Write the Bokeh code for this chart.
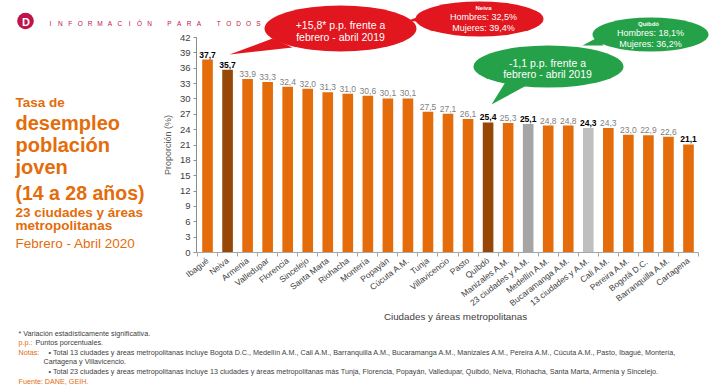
from bokeh.plotting import figure
from bokeh.models import Range1d, FixedTicker, Label, ColumnDataSource
from bokeh.embed import file_html
from bokeh.resources import INLINE
from bokeh.core.properties import value

# ---------------- data ----------------
cities = ["Ibagué", "Neiva", "Armenia", "Valledupar", "Florencia", "Sincelejo",
          "Santa Marta", "Riohacha", "Montería", "Popayán", "Cúcuta A.M.", "Tunja",
          "Villavicencio", "Pasto", "Quibdó", "Manizales A.M.", "23 ciudades y A.M.",
          "Medellín A.M.", "Bucaramanga A.M.", "13 ciudades y A.M.", "Cali A.M.",
          "Pereira A.M.", "Bogotá  D.C.", "Barranquilla A.M.", "Cartagena"]
rates = [37.7, 35.7, 33.9, 33.3, 32.4, 32.0, 31.3, 31.0, 30.6, 30.1, 30.1, 27.5,
         27.1, 26.1, 25.4, 25.3, 25.1, 24.8, 24.8, 24.3, 24.3, 23.0, 22.9, 22.6, 21.1]
y_ticks = list(range(0, 43, 3))
highlight_dark = ["Neiva", "Quibdó"]
aggregate_fill = {"23 ciudades y A.M.": "#A5A5A5", "13 ciudades y A.M.": "#BFBFBF"}
bold_value_labels = ["Ibagué", "Neiva", "Quibdó", "23 ciudades y A.M.",
                     "13 ciudades y A.M.", "Cartagena"]

ORANGE = "#E46C0A"
DARK = "#974706"
RED = "#E1161E"
GREEN = "#25A249"
CRIMSON = "#C0134A"
TXT = "#404040"
FONT = "Liberation Sans"

# ---------------- geometry (page px) ----------------
W, H = 716, 387
FL, FR, FB = 196, 698, 252          # chart area edges on the page
X0, X1 = -0.55, 24.5                # category axis extent
PXU = (FB - 37) / 42.0              # px per percentage point
BAND = (FR - FL) / (X1 - X0)


def dx(px):
    return X0 + (px - FL) / BAND


def dy(py):
    return (FB - py) / PXU


p = figure(width=W, height=H, output_backend="svg", toolbar_location=None,
           x_range=Range1d(dx(0), dx(W)), y_range=Range1d(dy(H), dy(0)),
           min_border=0, min_border_left=0, min_border_right=0,
           min_border_top=0, min_border_bottom=0)
p.title.visible = False
p.outline_line_color = None
p.xgrid.visible = False
p.ygrid.visible = False
p.background_fill_color = "white"
p.border_fill_color = "white"

# ---------------- bars ----------------
xs = list(range(len(cities)))
colors = [DARK if c in highlight_dark else aggregate_fill.get(c, ORANGE) for c in cities]
labels = [f"{r:.1f}".replace(".", ",") for r in rates]
src = ColumnDataSource(dict(x=xs, rate=rates, color=colors, label=labels))
p.vbar(x="x", top="rate", width=0.53, fill_color="color", line_color=None, source=src)

norm = ColumnDataSource(dict(
    x=[i for i, c in enumerate(cities) if c not in bold_value_labels],
    y=[rates[i] for i, c in enumerate(cities) if c not in bold_value_labels],
    t=[labels[i] for i, c in enumerate(cities) if c not in bold_value_labels]))
bold = ColumnDataSource(dict(
    x=[i for i, c in enumerate(cities) if c in bold_value_labels],
    y=[rates[i] for i, c in enumerate(cities) if c in bold_value_labels],
    t=[labels[i] for i, c in enumerate(cities) if c in bold_value_labels]))
p.text(x="x", y="y", text="t", source=norm, text_align="center", text_baseline="bottom",
       y_offset=-2, text_font=value(FONT), text_font_size="8.5px", text_color="#7F7F7F")
p.text(x="x", y="y", text="t", source=bold, text_align="center", text_baseline="bottom",
       y_offset=-2, text_font=value(FONT), text_font_size="8.5px", text_color="#000000",
       text_font_style="bold")

# ---------------- axes (pinned inside the canvas) ----------------
xa = p.xaxis[0]
xa.fixed_location = 0
xa.bounds = (X0, X1)
xa.ticker = FixedTicker(ticks=xs, minor_ticks=[i - 0.5 for i in range(len(cities) + 1)])
xa.major_label_overrides = {i: c for i, c in enumerate(cities)}
xa.major_label_orientation = 0.66
xa.major_tick_line_color = None
xa.major_tick_out = 0
xa.major_tick_in = 0
xa.minor_tick_line_color = "#A6A6A6"
xa.minor_tick_in = 0
xa.minor_tick_out = 4
xa.axis_line_color = "#A6A6A6"
xa.major_label_text_font = FONT
xa.major_label_text_font_size = "8.5px"
xa.major_label_text_color = TXT
xa.major_label_standoff = 3

ya = p.yaxis[0]
ya.fixed_location = X0
ya.bounds = (0, 42)
ya.ticker = FixedTicker(ticks=y_ticks)
ya.axis_line_color = "#8C8C8C"
ya.major_tick_line_color = "#8C8C8C"
ya.major_tick_in = 0
ya.major_tick_out = 3
ya.minor_tick_line_color = None
ya.major_label_text_font = FONT
ya.major_label_text_font_size = "9.5px"
ya.major_label_text_color = TXT
ya.major_label_standoff = 3
ya.axis_label = "Proporción (%)"
ya.axis_label_text_font = FONT
ya.axis_label_text_font_size = "9px"
ya.axis_label_text_color = "#595959"
ya.axis_label_text_font_style = "normal"
ya.axis_label_standoff = 4


def lab(px, py, text, size, color, style="normal", align="left", baseline="middle"):
    p.add_layout(Label(x=dx(px), y=dy(py), text=text, text_font=FONT,
                       text_font_size=f"{size}px", text_color=color,
                       text_font_style=style, text_align=align, text_baseline=baseline))


# x-axis title
lab(455, 316, "Ciudades y áreas metropolitanas", 9.8, TXT, align="center")

# ---------------- header / logo ----------------
p.scatter(x=[dx(25)], y=[dy(20.5)], size=16.6, marker="circle",
          fill_color=CRIMSON, line_color=None)
lab(25.5, 21, "D", 11, "white", style="bold", align="center")
header = "INFORMACIÓN PARA TODOS"
for k, ch in enumerate(header):
    if ch != " ":
        lab(50 + k * 9.9, 23, ch, 6.5, CRIMSON, align="center")


# ---------------- callout bubbles ----------------
def bubble(cx, cy, w, h, tail, fill):
    p.patch([dx(t[0]) for t in tail], [dy(t[1]) for t in tail], fill_color=fill, line_color=None)
    p.ellipse(x=[dx(cx)], y=[dy(cy)], width=[w / BAND], height=[h / PXU],
              fill_color=fill, line_color=None)


bubble(340, 28, 152, 46, [(272, 38), (292, 47), (229, 54)], RED)
lab(340, 24.7, "+15,8* p.p. frente a", 10.5, "white", align="center")
lab(340, 36, "febrero - abril 2019", 10.5, "white", align="center")

bubble(479, 18.5, 128, 35, [(424, 14), (430, 23), (408, 20)], RED)
lab(483, 7, "Neiva", 6, "white", style="bold", align="center")
lab(483, 16, "Hombres: 32,5%", 9, "white", align="center")
lab(483, 27, "Mujeres: 39,4%", 9, "white", align="center")

bubble(650, 34, 116, 34, [(597, 37), (603, 45), (582, 45)], GREEN)
lab(648, 23.5, "Quibdó", 6, "white", style="bold", align="center")
lab(650, 32.5, "Hombres: 18,1%", 9, "white", align="center")
lab(650, 43, "Mujeres: 36,2%", 9, "white", align="center")

bubble(548, 66, 150, 42, [(506, 80), (526, 85), (491, 104)], GREEN)
lab(547, 62, "-1,1 p.p. frente a", 10.5, "white", align="center")
lab(547, 73.5, "febrero - abril 2019", 10.5, "white", align="center")

# ---------------- left title ----------------
title_lines = [("Tasa de", 101.7, 13.5, "bold"),
               ("desempleo", 122.7, 20, "bold"),
               ("población", 144.5, 20, "bold"),
               ("joven", 166.7, 20, "bold"),
               ("(14 a 28 años)", 192.5, 19.5, "bold"),
               ("23 ciudades y áreas", 211.7, 13.5, "bold"),
               ("metropolitanas", 224.5, 13.5, "bold"),
               ("Febrero - Abril 2020", 242.7, 13.5, "normal")]
for t, y, s, st in title_lines:
    lab(15, y, t, s, ORANGE, style=st, baseline="alphabetic")

# ---------------- footnotes ----------------
FS = 7.2
lab(18, 332.5, "* Variación estadísticamente significativa.", FS, TXT)
lab(18, 342.3, "p.p.:", FS, ORANGE)
lab(35, 342.3, "Puntos porcentuales.", FS, TXT)
lab(18, 352.3, "Notas:", FS, ORANGE)
lab(48, 352.3, "•  Total 13 ciudades y áreas metropolitanas incluye Bogotá D.C., Medellín A.M., "
    "Cali A.M., Barranquilla A.M., Bucaramanga A.M., Manizales A.M., Pereira A.M., "
    "Cúcuta A.M., Pasto, Ibagué, Montería,", FS, TXT)
lab(43, 360.5, "Cartagena y Villavicencio.", FS, TXT)
lab(48, 371, "•  Total 23 ciudades y áreas metropolitanas incluye 13 ciudades y áreas "
    "metropolitanas más Tunja, Florencia, Popayán, Valledupar, Quibdó, Neiva, Riohacha, "
    "Santa Marta, Armenia y Sincelejo.", FS, TXT)
lab(18, 381, "Fuente: DANE, GEIH.", FS, ORANGE)

open("out.html", "w").write(file_html(p, INLINE))
